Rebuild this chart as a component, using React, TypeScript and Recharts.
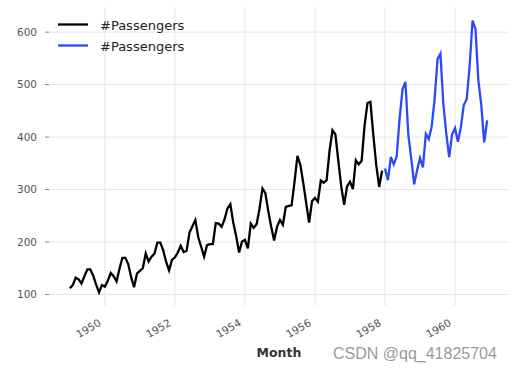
import React from 'react';
import { LineChart, Line, XAxis, YAxis, CartesianGrid } from 'recharts';

const years = [1949, 1950, 1951, 1952, 1953, 1954, 1955, 1956, 1957, 1958, 1959, 1960];
const passengers = [
  112, 118, 132, 129, 121, 135, 148, 148, 136, 119, 104, 118,
  115, 126, 141, 135, 125, 149, 170, 170, 158, 133, 114, 140,
  145, 150, 178, 163, 172, 178, 199, 199, 184, 162, 146, 166,
  171, 180, 193, 181, 183, 218, 230, 242, 209, 191, 172, 194,
  196, 196, 236, 235, 229, 243, 264, 272, 237, 211, 180, 201,
  204, 188, 235, 227, 234, 264, 302, 293, 259, 229, 203, 229,
  242, 233, 267, 269, 270, 315, 364, 347, 312, 274, 237, 278,
  284, 277, 317, 313, 318, 374, 413, 405, 355, 306, 271, 306,
  315, 301, 356, 348, 355, 422, 465, 467, 404, 347, 305, 336,
  340, 318, 362, 348, 363, 435, 491, 505, 404, 359, 310, 337,
  360, 342, 406, 396, 420, 472, 548, 559, 463, 407, 362, 405,
  417, 391, 419, 461, 472, 535, 622, 606, 508, 461, 390, 432,
];
const splitYear = 1958;
const xTicks = [1950, 1952, 1954, 1956, 1958, 1960];
const yTicks = [100, 200, 300, 400, 500, 600];
const xDomain = [1948.404, 1961.513];
const yDomain = [78.1, 647.9];
const seriesName = '#Passengers';

const data = passengers.map((v, i) => {
  const t = years[Math.floor(i / 12)] + (i % 12) / 12;
  return {
    t,
    train: t < splitYear ? v : null,
    val: t >= splitYear ? v : null,
  };
});

const BLACK = '#000000';
const BLUE = '#2a4af8';
const FONT = '"DejaVu Sans", sans-serif';

const XTick = (props: any) => {
  const { x, payload } = props;
  const ax = x - 3;
  const ay = 325;
  return (
    <text
      x={ax}
      y={ay}
      transform={`rotate(-30, ${ax}, ${ay})`}
      textAnchor="end"
      fill="#555"
      fontSize={10.5}
      fontFamily={FONT}
    >
      {payload.value}
    </text>
  );
};

const hGen = (args: any) => {
  const o = args?.offset || {};
  const top = o.top ?? 7;
  const h = o.height ?? 299;
  return yTicks.map((t) => top + h * (1 - (t - yDomain[0]) / (yDomain[1] - yDomain[0])));
};
const vGen = (args: any) => {
  const o = args?.offset || {};
  const left = o.left ?? 49;
  const w = o.width ?? 459;
  return xTicks.map((t) => left + (w * (t - xDomain[0])) / (xDomain[1] - xDomain[0]));
};

export default function App() {
  return (
    <div style={{ position: 'absolute', left: 0, top: 0, width: 517, height: 372, background: '#fff' }}>
      <LineChart
        width={517}
        height={372}
        data={data}
        margin={{ top: 7, right: 9, left: 0, bottom: 26 }}
      >
        <CartesianGrid
          stroke="#e6e6e6"
          strokeWidth={1}
          horizontalCoordinatesGenerator={hGen}
          verticalCoordinatesGenerator={vGen}
        />
        <XAxis
          dataKey="t"
          type="number"
          domain={xDomain}
          ticks={xTicks}
          allowDataOverflow
          axisLine={false}
          tickLine={false}
          height={40}
          tick={<XTick />}
        />
        <YAxis
          type="number"
          domain={yDomain}
          ticks={yTicks}
          allowDataOverflow
          axisLine={false}
          tickLine={{ stroke: '#666', strokeWidth: 0.8 }}
          tickSize={4}
          tickMargin={8}
          width={49}
          tick={{ fill: '#555', fontSize: 10.5, fontFamily: FONT }}
        />
        <Line
          dataKey="train"
          name={seriesName}
          stroke={BLACK}
          strokeWidth={2.3}
          dot={false}
          isAnimationActive={false}
          connectNulls={false}
        />
        <Line
          dataKey="val"
          name={seriesName}
          stroke={BLUE}
          strokeWidth={2.3}
          dot={false}
          isAnimationActive={false}
          connectNulls={false}
        />
      </LineChart>
      <svg width={517} height={372} style={{ position: 'absolute', left: 0, top: 0, pointerEvents: 'none' }}>
        <line x1={58} x2={88} y1={24.5} y2={24.5} stroke={BLACK} strokeWidth={2.3} />
        <text x={100} y={29.5} fontSize={13} fill="#222" fontFamily={FONT}>{seriesName}</text>
        <line x1={58} x2={88} y1={45.5} y2={45.5} stroke={BLUE} strokeWidth={2.3} />
        <text x={100} y={50.5} fontSize={13} fill="#222" fontFamily={FONT}>{seriesName}</text>
        <text x={279} y={357} textAnchor="middle" fontSize={12.5} fontWeight="bold" fill="#333" fontFamily={FONT}>Month</text>
        <text x={333} y={359} fontSize={16} fill="#9a9a9a" fontFamily='"Liberation Sans", Arial, sans-serif'>CSDN @qq_41825704</text>
      </svg>
    </div>
  );
}
